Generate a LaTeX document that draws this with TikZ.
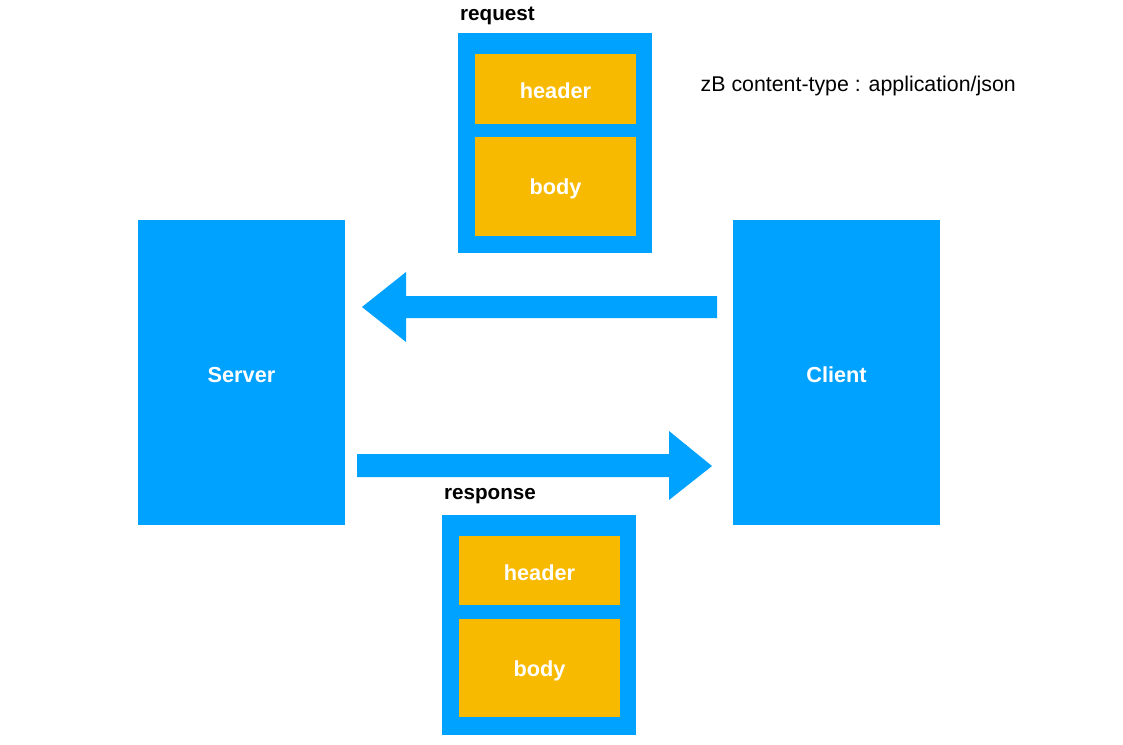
\documentclass[tikz,border=0pt]{standalone}
\usepackage{fontspec}
\setmainfont{Liberation Sans}
\definecolor{boxblue}{HTML}{00A2FF}
\definecolor{partorange}{HTML}{F8BA00}
\tikzset{
	inlabel/.style={text=white,font=\bfseries\fontsize{16.3}{19}\selectfont},
	toplabel/.style={text=black,font=\bfseries\fontsize{15.5}{18}\selectfont},
	notelabel/.style={text=black,font=\fontsize{16}{19}\selectfont}
}
\begin{document}
\begin{tikzpicture}[x=0.75pt,y=-0.75pt]
	\useasboundingbox (0,0) rectangle (1123,744);

	% server and client
	\fill[boxblue](138,220) rectangle (345,525);
	\fill[boxblue](733,220) rectangle (940,525);
	\node[inlabel] (server) at (241.5,375) {Server};
	\node[inlabel] (client) at (836.5,375) {Client};

	% request
	\fill[boxblue](458,33) rectangle (652,253);
	\fill[partorange](475,54) rectangle (636,124);
	\fill[partorange](475,137) rectangle (636,236);
	\node[toplabel] (request) at (497.5,16) {request};
	\node[inlabel] (reqheader) at (555.5,91) {header};
	\node[inlabel] (reqbody) at (555.5,189) {body};

	% response
	\fill[boxblue](442,515) rectangle (636,735);
	\fill[partorange](459,536) rectangle (620,605);
	\fill[partorange](459,619) rectangle (620,717);
	\node[toplabel] (response) at (490,496) {response};
	\node[inlabel] (respheader) at (539.5,573) {header};
	\node[inlabel] (respbody) at (539.5,671) {body};

	\node[notelabel,anchor=west] (note) at (696,86) {zB content-type : application/json};

	% arrows
	\fill[boxblue](717,296) -- (406,296) -- (406,272) -- (362,307)
		-- (406,342) -- (406,318) -- (717,318) -- cycle;
	\fill[boxblue](357,454) -- (669,454) -- (669,431) -- (712,466)
		-- (669,500) -- (669,477) -- (357,477) -- cycle;
\end{tikzpicture}
\end{document}
